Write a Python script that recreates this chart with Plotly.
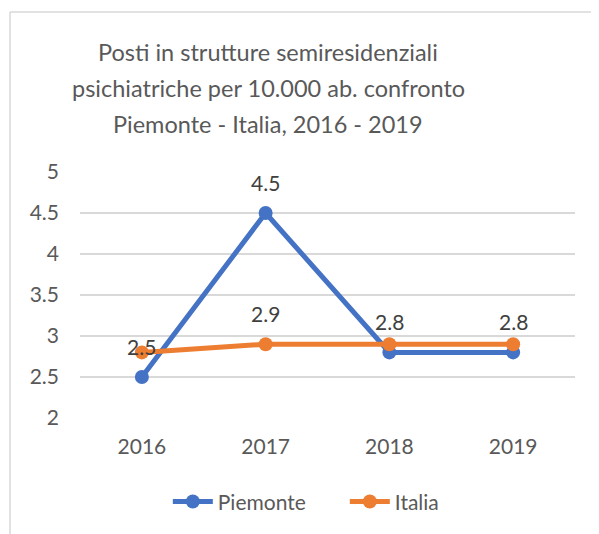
import plotly.graph_objects as go

years = ["2016", "2017", "2018", "2019"]
piemonte = [2.5, 4.5, 2.8, 2.8]
italia = [2.8, 2.9, 2.9, 2.9]
piemonte_labels = ["2.5", "4.5", "2.8", "2.8"]
italia_labels = [None, "2.9", None, None]
y_ticks = [2, 2.5, 3, 3.5, 4, 4.5, 5]
y_tick_text = ["2", "2.5", "3", "3.5", "4", "4.5", "5"]

title_lines = ["Posti in strutture semiresidenziali",
               "psichiatriche per 10.000 ab. confronto",
               "Piemonte - Italia, 2016 - 2019"]

FONT = "Lato"
BLUE = "#4472C4"
ORANGE = "#ED7D31"

fig = go.Figure()
fig.add_trace(go.Scatter(x=years, y=piemonte, name="Piemonte", mode="lines+markers",
                         line=dict(color=BLUE, width=5), marker=dict(color=BLUE, size=14)))
fig.add_trace(go.Scatter(x=years, y=italia, name="Italia", mode="lines+markers",
                         line=dict(color=ORANGE, width=5), marker=dict(color=ORANGE, size=14)))

for vals, labs in ((piemonte, piemonte_labels), (italia, italia_labels)):
    for i, (v, t) in enumerate(zip(vals, labs)):
        if t is None:
            continue
        fig.add_annotation(x=i, y=v, text=t, showarrow=False, yshift=31,
                           yanchor="middle", font=dict(family=FONT, size=21, color="#404040"))

# title, one line per annotation for Excel-like line spacing
for k, line in enumerate(title_lines):
    fig.add_annotation(xref="paper", yref="paper", x=0.3798, y=1.4878 - k * 0.1463,
                       text=line, showarrow=False, xanchor="center", yanchor="middle",
                       font=dict(family=FONT, size=23.5, color="#595959"))

# chart area border (partially visible, cropped)
fig.add_shape(type="line", xref="paper", yref="paper", x0=-0.1414, x1=-0.1414, y0=-1, y1=1.65,
              line=dict(color="#d9d9d9", width=1.5))
fig.add_shape(type="line", xref="paper", yref="paper", x0=-0.1414, x1=1.5, y0=1.65, y1=1.65,
              line=dict(color="#d9d9d9", width=1.5))

fig.update_layout(
    width=591, height=526,
    margin=dict(l=72, r=24, t=164, b=108),
    paper_bgcolor="white", plot_bgcolor="white",
    font=dict(family=FONT, color="#595959"),
    showlegend=True,
    legend=dict(orientation="h", x=0.535, xanchor="center", y=-0.341, yanchor="middle",
                font=dict(family=FONT, size=21, color="#595959"), itemwidth=40,
                entrywidth=122, entrywidthmode="pixels"),
    xaxis=dict(type="category", range=[-0.5, 3.5], showgrid=False, showline=False,
               zeroline=False, ticks="",
               tickfont=dict(family=FONT, size=21, color="#595959"), ticklabelstandoff=14),
    yaxis=dict(range=[2, 5], tickvals=y_ticks, ticktext=y_tick_text, showgrid=True,
               gridcolor="#d9d9d9", gridwidth=1.5, zeroline=False, showline=False, ticks="",
               tickfont=dict(family=FONT, size=21, color="#595959"), ticklabelstandoff=20),
)

fig.write_html("out.html")
